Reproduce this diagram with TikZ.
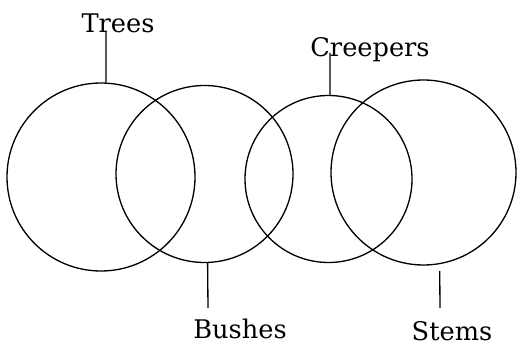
\documentclass[tikz,border=0pt]{standalone}
\usepackage{fontspec}
\setmainfont{DejaVu Serif}
\usetikzlibrary{positioning}

\begin{document}
\begin{tikzpicture}[
  x=0.02cm, y=-0.02cm,
  ring/.style={draw, circle, inner sep=0pt, line width=0.75pt},
  lbl/.style={font=\fontsize{14.6}{16}\selectfont, inner sep=0pt, anchor=base},
  stick/.style={line width=0.75pt},
]

  \useasboundingbox (0,0) rectangle (517,344);

  % the four sets
  \node[ring, minimum size=188*0.02cm] (trees)    at (101,177)   {};
  \node[ring, minimum size=177*0.02cm] (bushes)   at (204.5,174) {};
  \node[ring, minimum size=167*0.02cm] (creepers) at (328.5,179) {};
  \node[ring, minimum size=185*0.02cm] (stems)    at (423.5,172.5) {};

  % labels
  \node[lbl] (treestxt)    at (118,33)  {Trees};
  \node[lbl] (creeperstxt) at (370,57)  {Creepers};
  \node[lbl] (bushestxt)   at (240,338) {Bushes};
  \node[lbl] (stemstxt)    at (452,340) {Stems};

  % free ends of the leader lines
  \coordinate (treesend)    at (106,31);
  \coordinate (creepersend) at (330,53);
  \coordinate (bushesend)   at (208,308);
  \coordinate (stemsend)    at (440,308);

  % leader lines
  \draw[stick] (trees.87)     -- (treesend);
  \draw[stick] (creepers.89)  -- (creepersend);
  \draw[stick] (bushes.-88)   -- (bushesend);
  \draw[stick, shorten <=0.14cm] (stems.-80) -- (stemsend);

\end{tikzpicture}
\end{document}
